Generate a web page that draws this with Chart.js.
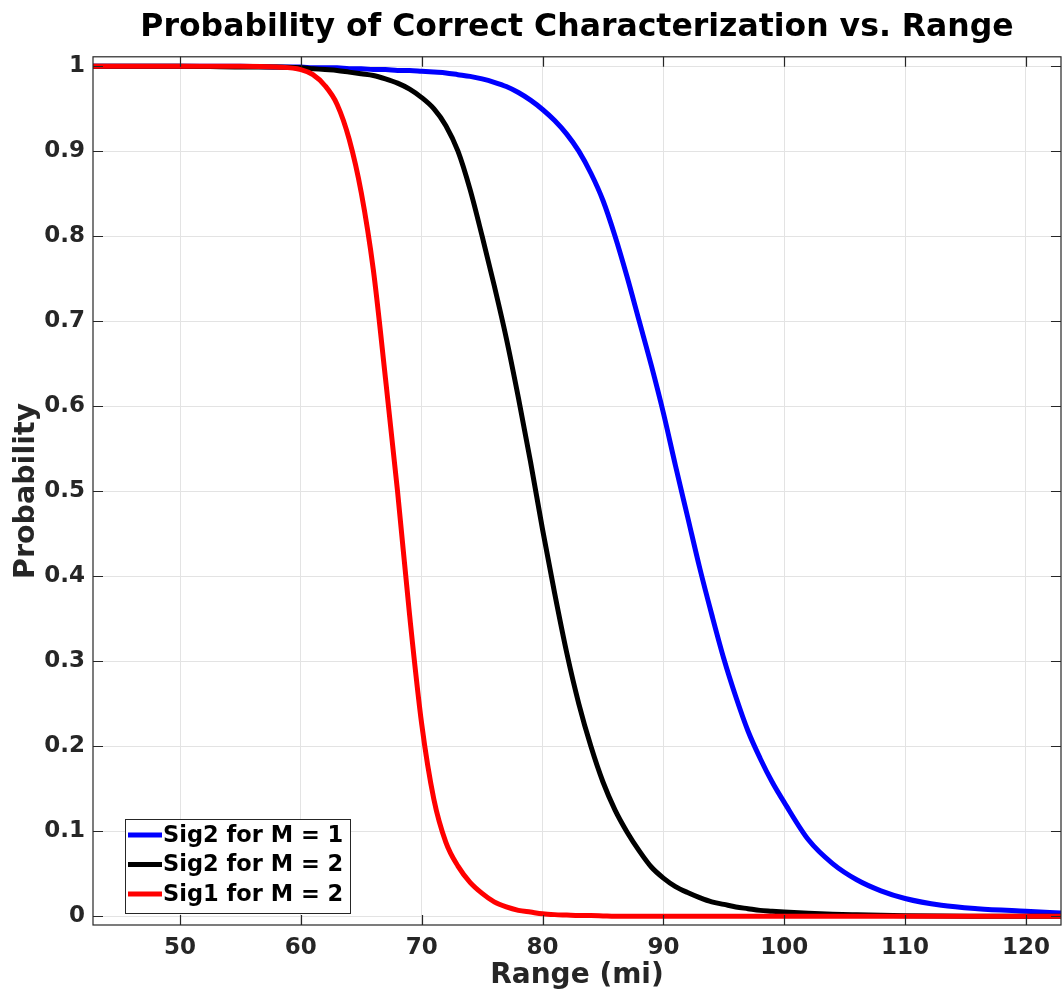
<!DOCTYPE html>
<html>
<head>
<meta charset="utf-8">
<title>Probability of Correct Characterization vs. Range</title>
<script src="https://cdn.jsdelivr.net/npm/chart.js@4.4.1/dist/chart.umd.min.js"></script>
<style>
    html, body { margin: 0; padding: 0; background: #ffffff; overflow: hidden; }
    canvas { display: block; }
</style>
</head>
<body>
<canvas id="probChart" width="1062" height="999"></canvas>
<script>
// 1. Data
const ranges = [42.8, 50, 55, 58,
    60, 61, 62, 63, 64, 65, 66, 67, 68, 69,
    70, 71, 72, 73, 74, 75, 76, 77, 78, 79,
    80, 81, 82, 83, 84, 85, 86, 87, 88, 89,
    90, 91, 92, 93, 94, 95, 96, 97, 98, 99,
    100, 102, 104, 106, 108, 110, 113, 116, 120, 122.9];

const sig2M1 = [1, 1, 1, 0.999,
    0.999, 0.998, 0.998, 0.998, 0.997, 0.997, 0.996, 0.996, 0.995, 0.995,
    0.994, 0.993, 0.992, 0.99, 0.988, 0.985, 0.981, 0.976, 0.969, 0.96,
    0.949, 0.936, 0.92, 0.9, 0.874, 0.842, 0.8, 0.752, 0.7, 0.648,
    0.592, 0.53, 0.47, 0.41, 0.355, 0.303, 0.258, 0.218, 0.186, 0.158,
    0.134, 0.09, 0.062, 0.043, 0.03, 0.021, 0.013, 0.009, 0.006, 0.004];

const sig2M2 = [1, 1, 0.999, 0.999,
    0.998, 0.997, 0.996, 0.995, 0.993, 0.991, 0.989, 0.985, 0.98, 0.973,
    0.963, 0.95, 0.93, 0.9, 0.855, 0.8, 0.742, 0.68, 0.61, 0.535,
    0.455, 0.38, 0.31, 0.25, 0.2, 0.158, 0.125, 0.099, 0.077, 0.058,
    0.045, 0.035, 0.028, 0.022, 0.017, 0.014, 0.011, 0.009, 0.007, 0.006,
    0.005, 0.0035, 0.0025, 0.0018, 0.0012, 0.0008, 0.0004, 0.0002, 0, 0];

const sig1M2 = [1, 1, 1, 0.999,
    0.996, 0.99, 0.977, 0.955, 0.914, 0.851, 0.76, 0.633, 0.5, 0.354,
    0.226, 0.138, 0.087, 0.059, 0.04, 0.027, 0.017, 0.011, 0.007, 0.005,
    0.003, 0.002, 0.0015, 0.001, 0.001, 0.0005, 0, 0, 0, 0,
    0, 0, 0, 0, 0, 0, 0, 0, 0, 0,
    0, 0, 0, 0, 0, 0, 0, 0, 0, 0];

const seriesNames = ['Sig2 for M = 1', 'Sig2 for M = 2', 'Sig1 for M = 2'];
const seriesColors = ['#0000ff', '#000000', '#ff0000'];

const xTicks = [50, 60, 70, 80, 90, 100, 110, 120];
const yTicks = [0, 0.1, 0.2, 0.3, 0.4, 0.5, 0.6, 0.7, 0.8, 0.9, 1];

const FONT = "'DejaVu Sans', 'Liberation Sans', Arial, sans-serif";
const AXIS_COLOR = '#262626';

// 2. Helpers
function toPoints(values) {
    return ranges.map((x, i) => ({ x: x, y: values[i] }));
}

// MATLAB-style box with inward ticks on all four sides
const boxPlugin = {
    id: 'matlabBox',
    afterDatasetsDraw(chart) {
        const { ctx, chartArea: a, scales } = chart;
        const len = 10;
        ctx.save();
        ctx.strokeStyle = AXIS_COLOR;
        ctx.lineWidth = 1.2;
        ctx.strokeRect(a.left, a.top, a.right - a.left, a.bottom - a.top);
        ctx.beginPath();
        xTicks.forEach(v => {
            const px = Math.round(scales.x.getPixelForValue(v)) + 0.5;
            ctx.moveTo(px, a.bottom); ctx.lineTo(px, a.bottom - len);
            ctx.moveTo(px, a.top); ctx.lineTo(px, a.top + len);
        });
        yTicks.forEach(v => {
            const py = Math.round(scales.y.getPixelForValue(v)) + 0.5;
            ctx.moveTo(a.left, py); ctx.lineTo(a.left + len, py);
            ctx.moveTo(a.right, py); ctx.lineTo(a.right - len, py);
        });
        ctx.stroke();
        ctx.restore();
    }
};

// Legend box in the lower-left corner of the axes
const legendPlugin = {
    id: 'matlabLegend',
    afterDraw(chart) {
        const { ctx, chartArea: a } = chart;
        const x0 = a.left + 32, y1 = a.bottom - 12;
        const rowH = 29.5, w = 225, h = 94;
        const y0 = y1 - h;
        ctx.save();
        ctx.fillStyle = '#ffffff';
        ctx.fillRect(x0, y0, w, h);
        ctx.strokeStyle = AXIS_COLOR;
        ctx.lineWidth = 1;
        ctx.strokeRect(x0 + 0.5, y0 + 0.5, w, h);
        ctx.font = "bold 22.5px " + FONT;
        ctx.textBaseline = 'middle';
        ctx.textAlign = 'left';
        chart.data.datasets.forEach((ds, i) => {
            const cy = y0 + 16 + i * rowH;
            ctx.strokeStyle = ds.borderColor;
            ctx.lineWidth = 5;
            ctx.beginPath();
            ctx.moveTo(x0 + 3, cy);
            ctx.lineTo(x0 + 37, cy);
            ctx.stroke();
            ctx.fillStyle = '#000000';
            ctx.fillText(ds.label, x0 + 38, cy + 1);
        });
        ctx.restore();
    }
};

// 3. Chart
function initChart() {
    const ctx = document.getElementById('probChart').getContext('2d');
    const values = [sig2M1, sig2M2, sig1M2];

    new Chart(ctx, {
        type: 'line',
        data: {
            datasets: values.map((v, i) => ({
                label: seriesNames[i],
                data: toPoints(v),
                borderColor: seriesColors[i],
                backgroundColor: seriesColors[i],
                borderWidth: 5,
                pointRadius: 0,
                fill: false,
                cubicInterpolationMode: 'monotone',
                order: 3 - i
            }))
        },
        options: {
            responsive: false,
            devicePixelRatio: 1,
            animation: false,
            layout: { padding: { left: 0, right: 1, top: 0, bottom: 0 } },
            plugins: {
                legend: { display: false },
                tooltip: { enabled: false },
                title: {
                    display: true,
                    fullSize: false,
                    text: 'Probability of Correct Characterization vs. Range',
                    color: '#000000',
                    font: { family: FONT, size: 31.5, weight: 'bold' },
                    padding: { top: 9, bottom: 10 }
                }
            },
            scales: {
                x: {
                    type: 'linear',
                    min: 42.8,
                    max: 122.9,
                    afterBuildTicks: axis => { axis.ticks = xTicks.map(v => ({ value: v })); },
                    afterFit: axis => { axis.height = 74; },
                    grid: { color: '#e3e3e3', lineWidth: 1, drawTicks: false },
                    border: { display: false },
                    ticks: {
                        color: AXIS_COLOR,
                        padding: 9,
                        maxRotation: 0,
                        font: { family: FONT, size: 23, weight: 'bold' },
                        callback: v => String(v)
                    },
                    title: {
                        display: true,
                        text: 'Range (mi)',
                        color: AXIS_COLOR,
                        font: { family: FONT, size: 28, weight: 'bold' },
                        padding: { top: 0, bottom: 6 }
                    }
                },
                y: {
                    type: 'linear',
                    min: -0.0102,
                    max: 1.011,
                    afterBuildTicks: axis => { axis.ticks = yTicks.map(v => ({ value: v })); },
                    afterFit: axis => { axis.width = 93; },
                    grid: { color: '#e3e3e3', lineWidth: 1, drawTicks: false },
                    border: { display: false },
                    ticks: {
                        color: AXIS_COLOR,
                        padding: 8,
                        font: { family: FONT, size: 23, weight: 'bold' },
                        callback: v => String(v)
                    },
                    title: {
                        display: true,
                        text: 'Probability',
                        color: AXIS_COLOR,
                        font: { family: FONT, size: 28.5, weight: 'bold' },
                        padding: { top: 9, bottom: 0 }
                    }
                }
            }
        },
        plugins: [boxPlugin, legendPlugin]
    });
}

window.onload = initChart;
</script>
</body>
</html>
